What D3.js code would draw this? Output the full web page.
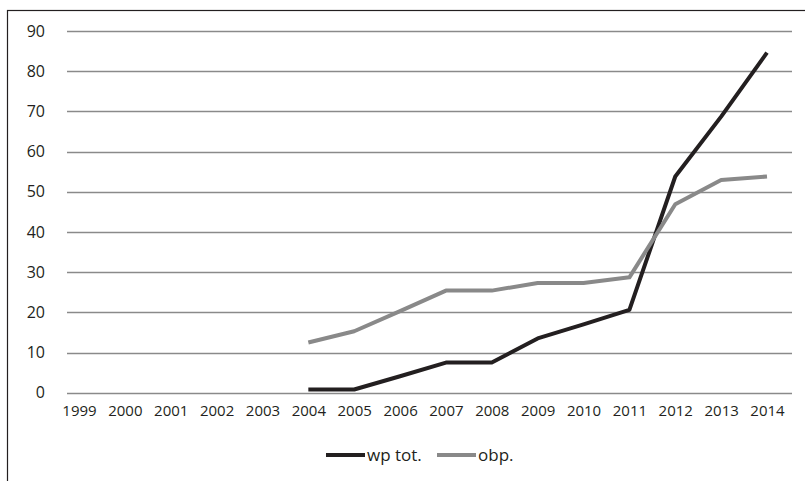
<!DOCTYPE html>
<html>
<head>
<meta charset="utf-8">
<script src="https://cdn.jsdelivr.net/npm/d3@7"></script>
<style>
  body { margin: 0; background: #fff; }
  text { font-family: "Open Sans", sans-serif; fill: #231f20; }
</style>
</head>
<body>
<div id="chart"></div>
<script>
const years = ['1999', '2000', '2001', '2002', '2003', '2004', '2005', '2006',
  '2007', '2008', '2009', '2010', '2011', '2012', '2013', '2014'];
const wpTot = [null, null, null, null, null, 0.8, 0.8, 4.1, 7.5, 7.5, 13.5, 17.0, 20.6, 53.8, 68.7, 84.6];
const obp = [null, null, null, null, null, 12.5, 15.3, 20.3, 25.4, 25.4, 27.3, 27.3, 28.7, 46.9, 52.9, 53.8];
const yTicks = [0, 10, 20, 30, 40, 50, 60, 70, 80, 90];
const seriesNames = ['wp tot.', 'obp.'];
const seriesColors = ['#231f20', '#898989'];

const width = 805, height = 481;
const svg = d3.select('#chart').append('svg')
  .attr('width', width).attr('height', height);

// outer frame (continues past the right and bottom edges)
svg.append('rect')
  .attr('x', 7.5).attr('y', 10.5)
  .attr('width', 820).attr('height', 500)
  .attr('fill', 'none').attr('stroke', '#231f20').attr('stroke-width', 1.2);

const x = d3.scalePoint().domain(years).range([79, 767]);
const y = d3.scaleLinear().domain([0, 90]).range([392.7, 31]);

// gridlines
svg.append('g').selectAll('line')
  .data(yTicks)
  .enter().append('line')
  .attr('x1', 67).attr('x2', 792)
  .attr('y1', d => Math.round(y(d)) + 0.5)
  .attr('y2', d => Math.round(y(d)) + 0.5)
  .attr('stroke', '#8a8a8a').attr('stroke-width', 1.3);

// y axis labels
const yAxis = d3.axisLeft(y).tickValues(yTicks).tickSize(0).tickPadding(0);
svg.append('g')
  .attr('transform', 'translate(45,0)')
  .call(yAxis)
  .call(g => g.select('.domain').remove())
  .selectAll('text')
  .attr('font-size', 16)
  .attr('font-family', '"Open Sans", sans-serif')
  .attr('fill', '#231f20');

// x axis labels
const xAxis = d3.axisBottom(x).tickSize(0).tickPadding(0);
svg.append('g')
  .attr('transform', 'translate(0,405)')
  .call(xAxis)
  .call(g => g.select('.domain').remove())
  .selectAll('text')
  .attr('font-size', 15)
  .attr('font-family', '"Open Sans", sans-serif')
  .attr('fill', '#231f20');

// lines
const line = d3.line()
  .defined(d => d.v !== null)
  .x(d => x(d.year))
  .y(d => y(d.v));

[wpTot, obp].forEach((vals, i) => {
  const pts = years.map((yr, j) => ({ year: yr, v: vals[j] }));
  svg.append('path')
    .datum(pts)
    .attr('d', line)
    .attr('fill', 'none')
    .attr('stroke', seriesColors[i])
    .attr('stroke-width', 4)
    .attr('stroke-linejoin', 'round');
});

// legend
const legendX = [326, 437];
const legend = svg.append('g');
seriesNames.forEach((name, i) => {
  legend.append('line')
    .attr('x1', legendX[i]).attr('x2', legendX[i] + 39)
    .attr('y1', 455).attr('y2', 455)
    .attr('stroke', seriesColors[i]).attr('stroke-width', 4);
  legend.append('text')
    .attr('x', legendX[i] + 41).attr('y', 461)
    .attr('font-size', 17)
    .text(name);
});
</script>
</body>
</html>
